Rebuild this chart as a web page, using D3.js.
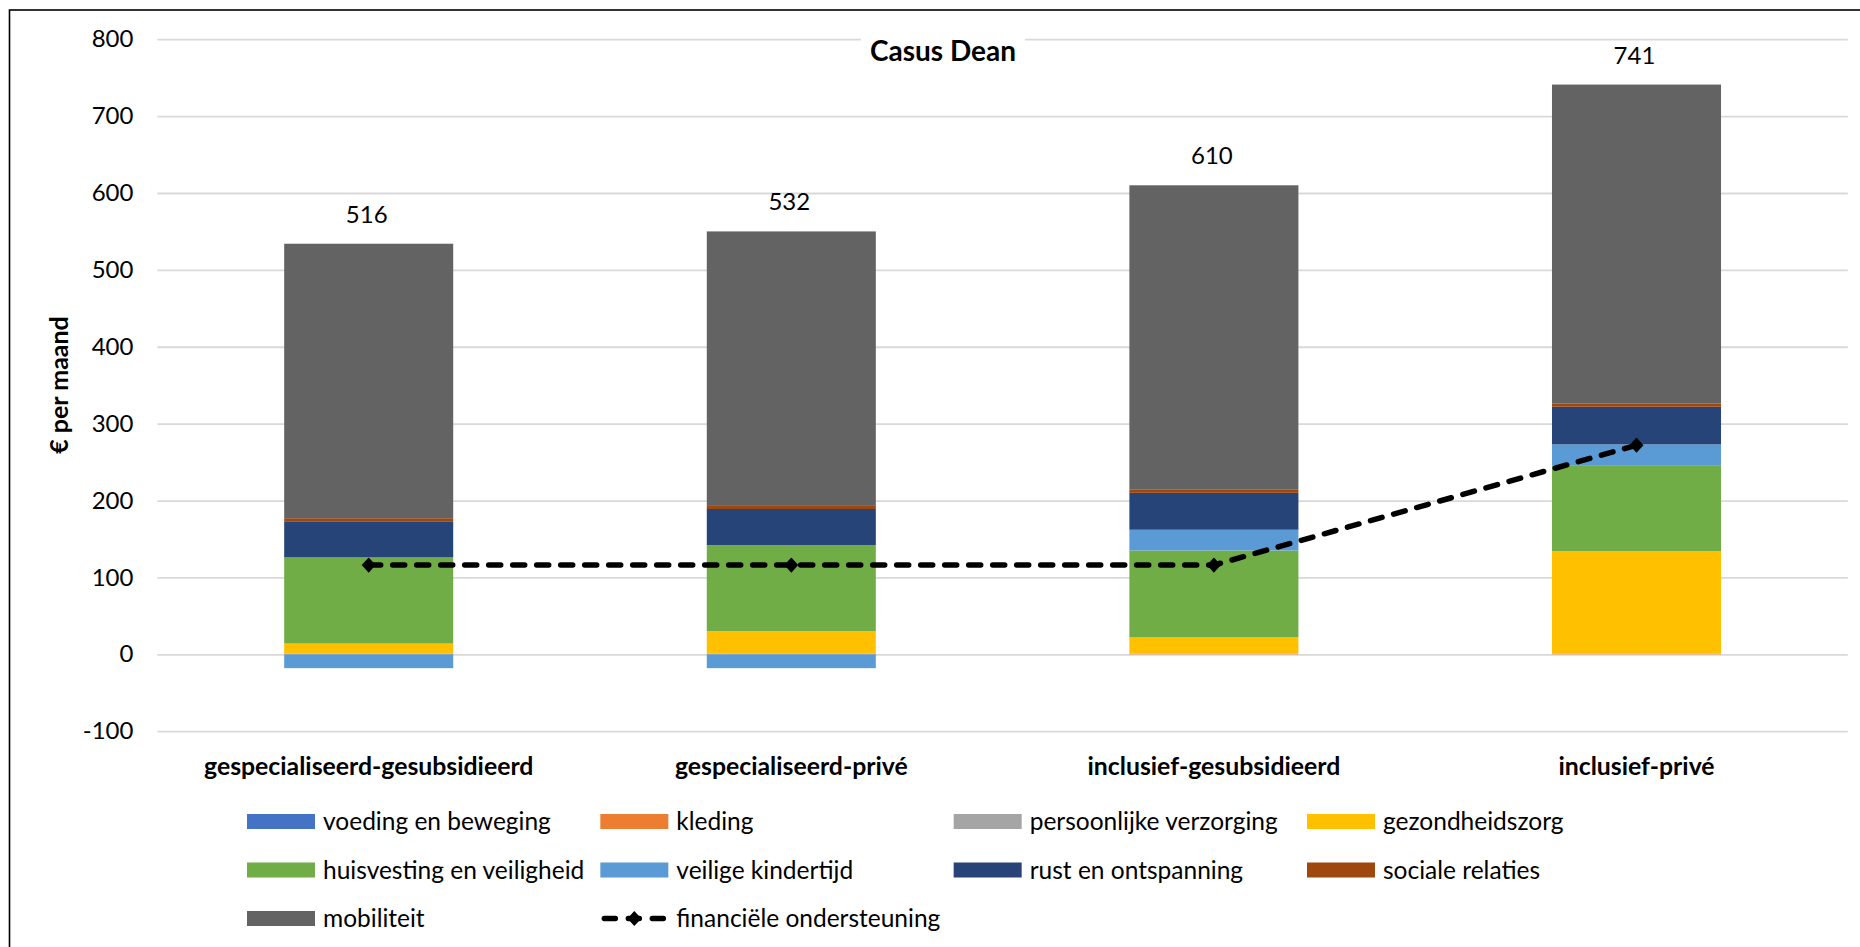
<!DOCTYPE html>
<html>
<head>
<meta charset="utf-8">
<script src="https://cdn.jsdelivr.net/npm/d3@7"></script>
<style>
  html, body { margin: 0; padding: 0; background: #fff; }
  svg { display: block; font-family: Lato, Carlito, Calibri, sans-serif; }
</style>
</head>
<body>
<svg id="chart" width="1860" height="947"></svg>
<script>
// Maandelijkse kosten per scenario, casus Dean (€ per maand)
const categories = [
  "gespecialiseerd-gesubsidieerd",
  "gespecialiseerd-privé",
  "inclusief-gesubsidieerd",
  "inclusief-privé"
];
const seriesNames = [
  "voeding en beweging", "kleding", "persoonlijke verzorging", "gezondheidszorg",
  "huisvesting en veiligheid", "veilige kindertijd", "rust en ontspanning",
  "sociale relaties", "mobiliteit"
];
const seriesColors = [
  "#4472C4", "#ED7D31", "#A5A5A5", "#FFC000",
  "#70AD47", "#5B9BD5", "#264478", "#9E480E", "#636363"
];
const voeding      = [0, 0, 0, 0];
const kleding      = [1, 1, 1, 1];
const verzorging   = [0, 0, 0, 0];
const gezondheid   = [13, 29, 21, 133];
const huisvesting  = [112, 112, 113, 112];
const kindertijd   = [-18, -18, 27, 27];
const rust         = [47, 47, 48, 49];
const sociaal      = [4, 5, 4, 4];
const mobiliteit   = [357, 356, 396, 415];
const ondersteuning = [116, 116, 116, 272];
const lineName = "financiële ondersteuning";
const yTicks = [-100, 0, 100, 200, 300, 400, 500, 600, 700, 800];
const title = "Casus Dean";
const yTitle = "€ per maand";

const seriesValues = [voeding, kleding, verzorging, gezondheid, huisvesting,
                      kindertijd, rust, sociaal, mobiliteit];

// rows for the stack layout
const rows = categories.map((c, i) => {
  const r = { cat: c };
  seriesNames.forEach((s, k) => { r[s] = seriesValues[k][i]; });
  return r;
});

const svg = d3.select("#chart");
const W = 1860, H = 947;

// outer frame of the chart area
svg.append("rect")
  .attr("x", 9.5).attr("y", 10)
  .attr("width", W + 40).attr("height", H + 40)
  .attr("fill", "none").attr("stroke", "#000").attr("stroke-width", 1.6);

const plotLeft = 157.4, plotRight = 1847.8;
const y = d3.scaleLinear().domain([-100, 800]).range([731.2, 39.2]);
const x = d3.scaleBand().domain(categories)
  .range([plotLeft, plotRight]).paddingInner(0.6).paddingOuter(0.3);

// plain hyphen for negative numbers
const fmt = d => String(Math.round(d));

// horizontal gridlines + tick labels
const yAxis = d3.axisLeft(y).tickValues(yTicks)
  .tickSize(-(plotRight - plotLeft)).tickPadding(24).tickFormat(fmt);
const gy = svg.append("g").attr("transform", `translate(${plotLeft},0)`).call(yAxis);
gy.select(".domain").remove();
gy.selectAll(".tick line").attr("stroke", "#d9d9d9").attr("stroke-width", 1.8);
gy.selectAll(".tick text").attr("fill", "#000")
  .style("font-size", "24px").attr("font-family", "Lato, Carlito, Calibri, sans-serif");

// y-axis title
svg.append("text")
  .attr("transform", `translate(68,385) rotate(-90)`)
  .attr("text-anchor", "middle")
  .style("font-size", "25px").style("font-weight", "bold")
  .text(yTitle);

// stacked bars (negatives stack below zero)
const stack = d3.stack().keys(seriesNames).offset(d3.stackOffsetDiverging);
const stacked = stack(rows);

svg.append("g").selectAll("g")
  .data(stacked).join("g")
  .attr("fill", (d, i) => seriesColors[i])
  .selectAll("rect")
  .data(d => d).join("rect")
  .attr("x", d => x(d.data.cat))
  .attr("width", x.bandwidth())
  .attr("y", d => y(Math.max(d[0], d[1])))
  .attr("height", d => Math.abs(y(d[0]) - y(d[1])));

// total labels above each bar
const totals = rows.map(r => ({
  cat: r.cat,
  total: d3.sum(seriesNames, s => r[s]),
  top: d3.sum(seriesNames, s => Math.max(0, r[s]))
}));
svg.append("g").selectAll("text")
  .data(totals).join("text")
  .attr("x", d => x(d.cat) + x.bandwidth() / 2 - 2)
  .attr("y", d => y(d.top) - 21)
  .attr("text-anchor", "middle")
  .style("font-size", "24px")
  .text(d => fmt(d.total));

// financial support line
const lineData = categories.map((c, i) => ({ cat: c, v: ondersteuning[i] }));
const cx = d => x(d.cat) + x.bandwidth() / 2;
svg.append("path")
  .datum(lineData)
  .attr("fill", "none").attr("stroke", "#000")
  .attr("stroke-width", 5.5).attr("stroke-linecap", "round")
  .attr("stroke-dasharray", "12,12")
  .attr("d", d3.line().x(cx).y(d => y(d.v)));

const diamond = {
  draw(ctx, size) {
    const r = Math.sqrt(size / 2);
    ctx.moveTo(0, -r * 1.08);
    ctx.lineTo(r, 0);
    ctx.lineTo(0, r * 1.08);
    ctx.lineTo(-r, 0);
    ctx.closePath();
  }
};
svg.append("g").selectAll("path")
  .data(lineData).join("path")
  .attr("transform", d => `translate(${cx(d)},${y(d.v)})`)
  .attr("d", d3.symbol().type(diamond).size(98))
  .attr("fill", "#000");

// category labels
const xAxis = d3.axisBottom(x).tickSize(0).tickPadding(0);
const gx = svg.append("g").attr("transform", "translate(0,757)").call(xAxis);
gx.select(".domain").remove();
gx.selectAll(".tick text").attr("fill", "#000")
  .attr("dy", "0.71em")
  .style("font-size", "24.8px").style("font-weight", "bold")
  .attr("font-family", "Lato, Carlito, Calibri, sans-serif");

// chart title on a white box over the top gridline
const titleG = svg.append("g");
const titleBox = titleG.append("rect").attr("fill", "#fff");
const titleText = titleG.append("text")
  .attr("x", 943).attr("y", 61)
  .attr("text-anchor", "middle")
  .style("font-size", "28px").style("font-weight", "bold")
  .text(title);
const tb = titleText.node().getBBox();
titleBox.attr("x", tb.x - 9).attr("y", tb.y - 4)
  .attr("width", tb.width + 18).attr("height", tb.height + 8);

// legend: 4 columns, row-major
const legendItems = seriesNames.map((s, i) => ({ name: s, color: seriesColors[i], line: false }))
  .concat([{ name: lineName, color: "#000", line: true }]);
const colX = d3.scalePoint().domain(d3.range(4)).range([247, 1307]);
const rowY = d3.scalePoint().domain(d3.range(3)).range([821.5, 918.5]);
const leg = svg.append("g").selectAll("g")
  .data(legendItems).join("g")
  .attr("transform", (d, i) => `translate(${colX(i % 4)},${rowY(Math.floor(i / 4))})`);
leg.filter(d => !d.line).append("rect")
  .attr("x", 0).attr("y", -7.5).attr("width", 68).attr("height", 15)
  .attr("fill", d => d.color);
const lineItems = leg.filter(d => d.line);
lineItems.append("line")
  .attr("x1", 2).attr("x2", 66).attr("y1", 0).attr("y2", 0)
  .attr("stroke", "#000").attr("stroke-width", 5.5)
  .attr("stroke-linecap", "round").attr("stroke-dasharray", "11,13")
  .attr("stroke-dashoffset", -2);
lineItems.append("path")
  .attr("transform", "translate(34,0)")
  .attr("d", d3.symbol().type(diamond).size(98))
  .attr("fill", "#000");
leg.append("text")
  .attr("x", 76).attr("y", 8.5)
  .style("font-size", "24.5px")
  .text(d => d.name);
</script>
</body>
</html>
